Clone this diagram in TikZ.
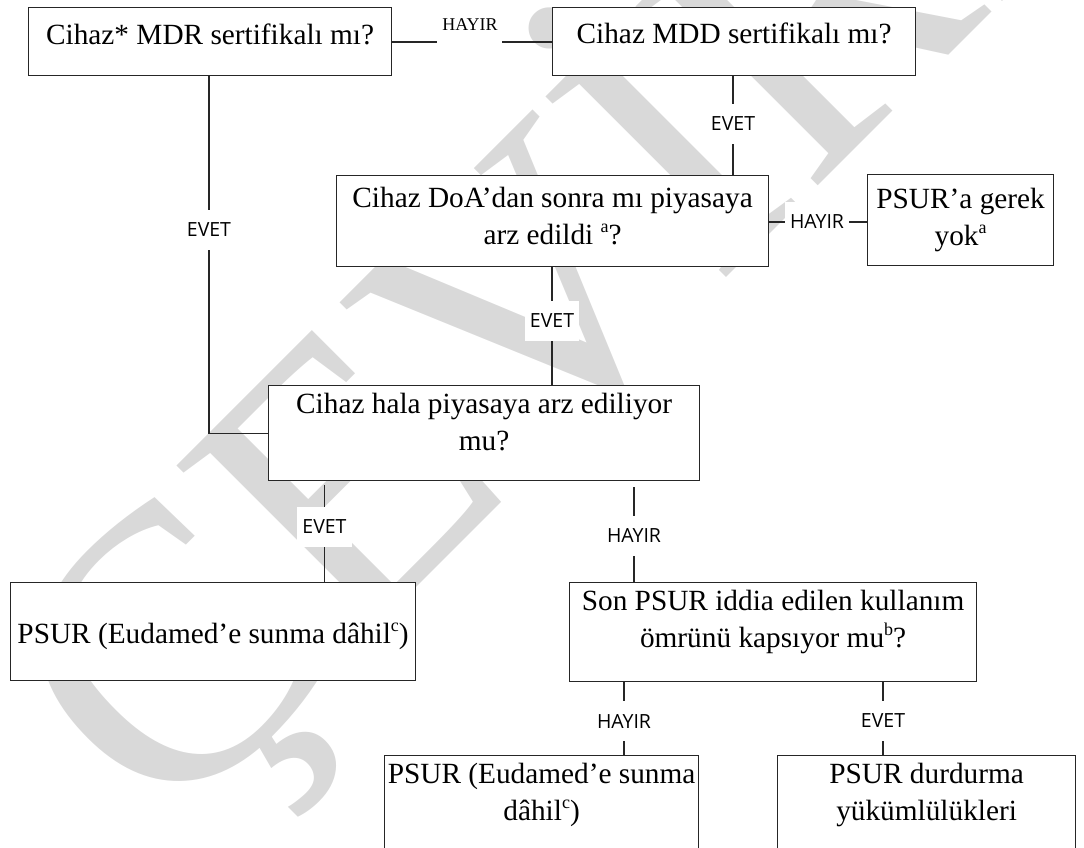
\documentclass[tikz,border=0pt]{standalone}
\usepackage{fontspec}
\setmainfont{Liberation Serif}
\newfontfamily\lblfont{Open Sans}
\newcommand\bxt[4]{\parbox[c][#2][t]{#1}{\vspace*{#3}\centering #4\par}}
\newcommand\supx[1]{\raisebox{0.42em}{\fontsize{18}{18}\selectfont #1}}
\tikzset{
  box/.style={draw=black!85, line width=1.2pt, fill=white, inner sep=0pt, anchor=north west,
    font=\fontsize{29.3}{37}\selectfont},
  ln/.style={draw=black!85, line width=1.2pt},
  lbl/.style={fill=white, inner xsep=5pt, inner ysep=0pt, minimum height=40pt,
    font=\lblfont\fontsize{19.5}{19.5}\selectfont},
  toplbl/.style={inner sep=0pt, font=\fontsize{18}{18}\selectfont},
  wmark/.style={text=black!15, inner sep=0pt, font=\fontsize{390}{390}\selectfont}
}
\begin{document}
\begin{tikzpicture}[x=1pt,y=-1pt]
\useasboundingbox (0,0) rectangle (1084,847);
\clip (0,0) rectangle (1084,847);
% watermark
\node[wmark, rotate=45, anchor=base west] (wm) at (165,839) {ÇEVİRİ};
% boxes
\node[box] (b1) at (28,7)   {\bxt{363pt}{68pt}{16pt}{Cihaz* MDR sertifikalı mı?}};
\node[box] (b2) at (552,7)  {\bxt{363pt}{68pt}{15pt}{Cihaz MDD sertifikalı mı?}};
\node[box] (b3) at (336,175){\bxt{432pt}{91pt}{12pt}{Cihaz DoA’dan sonra mı piyasaya\\arz edildi \supx{a}?}};
\node[box] (b4) at (867,174){\bxt{186pt}{91pt}{14pt}{PSUR’a gerek\\yok\supx{a}}};
\node[box] (b5) at (268,385){\bxt{431pt}{95pt}{8pt}{Cihaz hala piyasaya arz ediliyor\\mu?}};
\node[box] (b6) at (10,582) {\bxt{405pt}{98pt}{40pt}{PSUR (Eudamed’e sunma dâhil\supx{c})}};
\node[box] (b7) at (569,582){\bxt{407pt}{99pt}{8pt}{Son PSUR iddia edilen kullanım\\ömrünü kapsıyor mu\supx{b}?}};
\node[box] (b8) at (384,755){\bxt{314pt}{140pt}{8pt}{PSUR (Eudamed’e sunma\\dâhil\supx{c})}};
\node[box] (b9) at (777,755){\bxt{298pt}{140pt}{8pt}{PSUR durdurma\\yükümlülükleri}};
% label positions
\coordinate (h1a) at (437,42);
\coordinate (h1b) at (502,42);
\coordinate (ce1) at (733,124);
\coordinate (ch2) at (817,222);
\coordinate (ce2) at (209,230);
\coordinate (ce3) at (552,321);
\coordinate (ce4) at (324.5,527);
\coordinate (ch5) at (634,536);
\coordinate (ch6) at (624,721);
\coordinate (ce7) at (883,721);
% connectors
\draw[ln] (b1.east |- h1a) -- (h1a);
\draw[ln] (h1b) -- (b2.west |- h1b);
\draw[ln] (b2.south -| ce1) -- (b3.north -| ce1);
\draw[ln] (b3.east |- ch2) -- (b4.west |- ch2);
\draw[ln] (b1.south -| ce2) |- (b5.west);
\draw[ln] (b3.south -| ce3) -- (b5.north -| ce3);
\draw[ln, shorten <=4pt] (b5.south -| ce4) -- (b6.north -| ce4);
\draw[ln, shorten <=6pt] (b5.south -| ch5) -- (b7.north -| ch5);
\draw[ln] (b7.south -| ch6) -- (b8.north -| ch6);
\draw[ln] (b7.south -| ce7) -- (b9.north -| ce7);
% labels
\node[toplbl] (h1) at (470,25) {HAYIR};
\node[lbl] (e1) at (ce1) {EVET};
\node[lbl] (h2) at (ch2) {HAYIR};
\node[lbl] (e2) at (ce2) {EVET};
\node[lbl] (e3) at (ce3) {EVET};
\node[lbl] (e4) at (ce4) {EVET};
\node[lbl] (h5) at (ch5) {HAYIR};
\node[lbl] (h6) at (ch6) {HAYIR};
\node[lbl] (e7) at (ce7) {EVET};
\end{tikzpicture}
\end{document}
